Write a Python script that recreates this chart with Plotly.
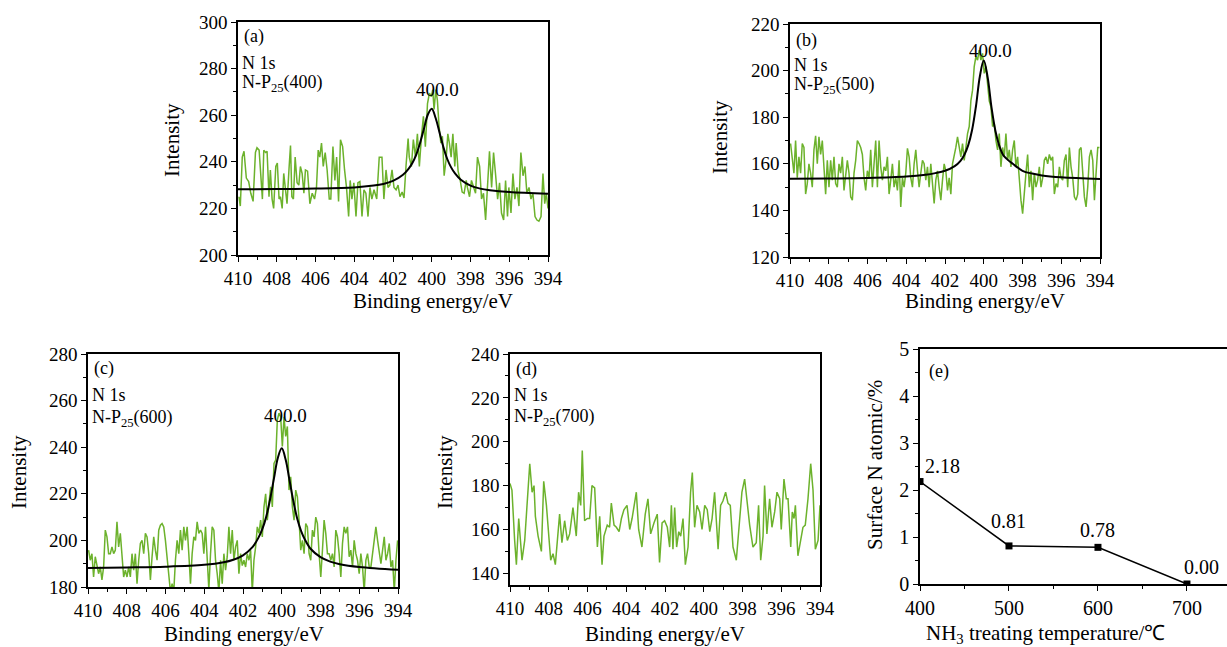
import numpy as np
import plotly.graph_objects as go

# ---------------- data ----------------
# (a) N-P25(400)
a_energy = [409.95,409.88,409.78,409.69,409.57,409.45,409.34,409.22,409.10,409.02,
            408.91,408.83,408.74,408.67,408.57,408.50,408.40,408.33,408.24,408.16,
            408.05,407.97,407.88,407.81,407.72,407.64,407.55,407.47,407.36,407.29,
            407.22,407.14,407.05,406.95,406.86,406.78,406.69,406.60,406.52,406.41,
            406.29,406.17,406.05,405.95,405.86,405.78,405.69,405.60,405.50,405.40,
            405.29,405.21,405.10,405.00,404.91,404.81,404.71,404.60,404.50,404.40,
            404.29,404.21,404.12,404.02,403.91,403.81,403.71,403.60,403.50,403.40,
            403.29,403.19,403.09,402.98,402.84,402.71,402.57,402.47,402.36,402.26,
            402.16,402.05,401.95,401.84,401.74,401.64,401.53,401.43,401.33,401.22,
            401.16,401.05,400.95,400.84,400.74,400.64,400.53,400.43,400.33,400.22,
            400.12,400.02,399.95,399.88,399.79,399.71,399.62,399.53,399.45,399.36,
            399.26,399.17,399.09,399.00,398.91,398.81,398.74,398.64,398.53,398.43,
            398.33,398.22,398.16,398.05,397.95,397.84,397.74,397.64,397.53,397.43,
            397.33,397.22,397.12,397.02,396.91,396.81,396.71,396.60,396.50,396.40,
            396.29,396.19,396.09,396.02,395.91,395.81,395.71,395.60,395.50,395.40,
            395.29,395.19,395.09,394.98,394.88,394.78,394.67,394.57,394.47,394.36,
            394.26,394.17,394.09,394.00]
a_counts = [225,221,242,244.5,233,231.5,226.5,223,244,246,
            245,234,224,245,244,244.5,225,236.5,224,220,
            238,239.5,224,225,220,235,228,222,238,247,
            225,224,242,231,230,238,235,226.5,236.5,236,
            222,226.5,224,229,245,242,248,238,244,236.5,
            224,224,246.5,232,242,223,249.5,246.5,236.5,229,
            216.5,232,224,231,216.5,231,231.5,216.5,228,226.5,
            216.5,229,224,228,224,242,242,224,236.5,229,
            230,236.5,229,228,230,225,227,224.5,238,250,
            242,238,249.5,242,252,238,251,259.5,246.5,265,
            269.5,268,271,262.5,271,266.5,255,248,251,234,
            241,252,248,242,252,238,248,236,232,227,
            226.5,232,229,225,232,229,226.5,242,238,224,
            226.5,215,229,244.5,229,244,235,224,231,218,
            215,232,216.5,229,218,235,224,229,221,244,
            234,238,226.5,229,224,226.5,216.5,215,214.5,216.5,
            235,222,226.5,220]

# (b) N-P25(500), evenly spaced from 409.97 to 394.03 eV
b_start, b_end = 409.97, 394.03
b_counts = [168.7,163,156,170,154,163,156,168.7,167,147,
            151.5,160,156,150,166,172,160,171.6,164,170,
            157,147,161.5,150,161.5,153,163,151.5,150,160,
            156,163,148.6,156,161.5,156,145.8,144.4,156,161.5,
            170,168.7,167,164,154,148.6,157,154,166,150,
            158.7,170,150,170,158.7,153,158.7,157,163,147,
            153,160,150,154,148.6,161.5,141.5,154,150,156,
            166.6,163,154,150,160,166,157,150,156,161.5,
            160,153,158.7,150,160,150,143,153,157,150,
            144.4,153,160,157,148.6,154,147,160,163,167,
            171.6,167,163,168.7,161.5,167,173,176,187,191.6,
            201.7,206,204.5,208.8,204.5,207.4,198.8,201.7,193,187,
            184.5,176,177.3,170,166,173,158.7,167,163,173,
            161.5,166,158.7,166,170,158.7,163,153,144.4,138.6,
            148.6,156,164,150,157,144.4,156,150,153,158.7,
            150,154,161.5,163,160,164,161.5,163,147,151.5,
            150,158.7,154,153,161.5,164,150,167,158.7,154,
            145.8,144.4,147,166,167,156,145.8,141.5,150,163,
            166,161.5,144.4,156,167,167]

# (c) N-P25(600), evenly spaced from 409.97 to 394.02 eV
c_start, c_end = 409.97, 394.02
c_counts = [195.8,191.5,194.3,184.3,193,190,185.7,188.6,183,188.6,
            204.4,201.5,194.3,194.3,197.2,194.3,195.8,208,197.2,203,
            194.3,184.3,187.2,184.3,188.6,184.3,194.3,187.2,194.3,181.4,
            191.5,198.7,200,194.3,203,201.5,194.3,183,193,201.5,
            195.8,191.5,204.4,206.5,207.2,205.8,200,193,185.7,178,
            181.4,178,191.5,200,194.3,204.4,195.8,205.8,200,205.8,
            194.3,181.4,194.3,201.5,200,208,203,204.4,203,194.3,
            205.8,191.5,179,194.3,205.8,204.4,191.5,185.7,178,191.5,
            181.4,194.3,187.2,193,205.8,194.3,204.4,191.5,197.2,200,
            185.7,194.3,189.2,191.5,188.6,194.3,191.5,195.8,178,191.5,
            197.2,205.8,203,208.7,201.5,214.4,220,208.7,217.3,223,
            214.4,233,234.5,251.7,254.6,253,240.3,253,244.6,248.9,
            221.6,227.3,214.4,208.7,221.6,218.7,208.7,195.8,200,194.3,
            207.2,205.8,194.3,191.5,204.4,201.5,210,207.2,194.3,184.3,
            195.8,208.7,203,194.3,194.3,191.5,194.3,188.6,204.4,201.5,
            194.3,184.3,198.7,205.8,203,205.8,193,195.8,188.6,200,
            194.3,191.5,185.7,194.3,188.6,178,191.5,194.3,188.6,188.6,
            194.3,201.5,205.8,200,194.3,190,195.8,201.5,191.5,194.3,
            198.7,188.6,191.5,178,191.5,200]

# (d) N-P25(700)
d_energy = [410.00,409.90,409.76,409.67,409.55,409.38,409.24,409.16,408.98,408.86,
            408.76,408.69,408.55,408.38,408.26,408.12,408.04,407.90,407.78,407.66,
            407.44,407.32,407.18,407.04,406.92,406.75,406.58,406.46,406.35,406.27,
            406.15,406.01,405.89,405.77,405.63,405.49,405.37,405.25,405.15,404.98,
            404.86,404.77,404.63,404.51,404.37,404.25,404.12,403.96,403.82,403.70,
            403.48,403.36,403.19,403.02,402.88,402.74,402.57,402.40,402.28,402.15,
            402.02,401.88,401.76,401.67,401.59,401.50,401.40,401.29,401.19,401.07,
            400.95,400.81,400.68,400.59,400.47,400.35,400.21,400.09,399.95,399.82,
            399.69,399.57,399.44,399.26,399.13,399.01,398.87,398.75,398.63,398.49,
            398.32,398.15,398.03,397.89,397.75,397.63,397.46,397.29,397.17,397.06,
            396.94,396.86,396.74,396.60,396.48,396.34,396.22,396.08,396.00,395.86,
            395.74,395.65,395.51,395.43,395.34,395.27,395.14,395.00,394.88,394.76,
            394.62,394.48,394.36,394.24,394.10,394.00]
d_counts = [181,178,155,144,165,146,155,165,190,177,
            180,166,157,150,182,171,161,146,149,144,
            167,154,164,155,158,170,157,177,171,196,
            164,165,165,180,179,152,166,144,157,162,
            161,172,162,161,159,165,169,171,160,165,
            177,160,152,167,174,158,163,167,145,163,
            164,161,152,171,151,170,152,159,157,165,
            144,152,177,186,161,171,168,160,171,169,
            159,165,177,151,171,173,177,172,171,152,
            146,165,177,183,171,162,152,154,171,146,
            157,180,158,174,161,168,177,174,160,183,
            174,174,152,168,165,171,148,155,161,162,
            174,190,178,151,155,171]

# fitted N 1s peaks (black curves)
fit_energy = [410, 408, 406, 404, 403, 402.5, 402, 401.5, 401.2, 401, 400.8, 400.6, 400.4,
              400.2, 400, 399.8, 399.6, 399.4, 399.2, 399, 398.8, 398.5, 398, 397.5, 397, 396, 394]
a_fit = [228.2, 228.3, 228.5, 229.0, 229.8, 230.5, 231.8, 234.3, 237.0, 239.5, 243.1, 248.2, 254.3,
         260.3, 262.8, 258.8, 252.6, 246.3, 241.2, 237.6, 235.0, 232.3, 229.8, 228.5, 227.8, 227.0, 226.3]
b_fit = [153.6, 153.7, 153.9, 154.5, 155.3, 156.0, 157.0, 159.0, 161.3, 163.9, 168.0, 174.6, 184.8,
         197.6, 204.3, 197.2, 184.2, 174.2, 167.8, 163.8, 162.0, 160.0, 157.0, 155.8, 155.0, 154.2, 153.5]
c_fit = [188.2, 188.4, 188.7, 189.5, 190.6, 191.7, 193.6, 197.2, 201.2, 204.9, 210.2, 217.7, 226.7,
         235.5, 239.5, 234.7, 225.8, 216.8, 209.3, 204.0, 200.3, 196.3, 192.8, 190.9, 189.8, 188.6, 187.4]

peak_label = "400.0"
samples = ["400", "500", "600", "700"]
panel_tags = ["(a)", "(b)", "(c)", "(d)"]

# (e) surface N content
temps = [400, 500, 600, 700]
n_atomic = [2.18, 0.81, 0.78, 0.00]

# ---------------- figure ----------------
W, H = 1227, 647
FONT = "Liberation Serif"
GREEN = "#6cb22c"


def px(x):
    return x / W


def py(y):
    return 1 - y / H


fig = go.Figure()

b_energy = np.linspace(b_start, b_end, len(b_counts))
c_energy = np.linspace(c_start, c_end, len(c_counts))

spectra = [(a_energy, a_counts, a_fit), (b_energy, b_counts, b_fit),
           (c_energy, c_counts, c_fit), (d_energy, d_counts, None)]
for i, (en, ct, ft) in enumerate(spectra):
    ax = "" if i == 0 else str(i + 1)
    fig.add_trace(go.Scatter(x=list(en), y=ct, mode="lines", line=dict(color=GREEN, width=1.5),
                             xaxis="x" + ax, yaxis="y" + ax, showlegend=False, hoverinfo="skip"))
    if ft is not None:
        fig.add_trace(go.Scatter(x=fit_energy, y=ft, mode="lines",
                                 line=dict(color="black", width=2, shape="spline"),
                                 xaxis="x" + ax, yaxis="y" + ax, showlegend=False, hoverinfo="skip"))

fig.add_trace(go.Scatter(x=temps, y=n_atomic, mode="lines+markers",
                         line=dict(color="black", width=1.5),
                         marker=dict(symbol="square", size=7, color="black"),
                         xaxis="x5", yaxis="y5", showlegend=False, hoverinfo="skip"))

tickfont = dict(family=FONT, size=19, color="black")


def common():
    return dict(ticks="outside", ticklen=5, tickwidth=1.2, tickcolor="black",
                showline=True, linecolor="black", linewidth=1.5,
                showgrid=False, zeroline=False, automargin=False)


def xspec(domain, anchor):
    d = common()
    d.update(domain=domain, anchor=anchor, range=[410, 394], tick0=394, dtick=2,
             minor=dict(ticks="outside", ticklen=3, dtick=1, tickcolor="black", tickwidth=1),
             mirror=True, tickfont=tickfont)
    return d


def yspec(domain, anchor, rng):
    d = common()
    d.update(domain=domain, anchor=anchor, range=rng, tick0=0, dtick=20,
             minor=dict(ticks="outside", ticklen=3, dtick=10, tickcolor="black", tickwidth=1),
             mirror=True, tickfont=tickfont)
    return d


boxes = {
    1: ((238, 548), (22, 255), [200, 300]),
    2: ((790, 1100), (24, 257), [120, 220]),
    3: ((88, 398), (354, 587), [180, 280]),
    4: ((510, 820), (354, 585), [134.7, 240]),
}
layout_axes = {}
for k, ((x0, x1), (y0, y1), rng) in boxes.items():
    s = "" if k == 1 else str(k)
    layout_axes["xaxis" + s] = xspec([px(x0), px(x1)], "y" + s)
    layout_axes["yaxis" + s] = yspec([py(y1), py(y0)], "x" + s, rng)

ex = common()
ex.update(domain=[px(920), 1.0], anchor="y5", range=[400, 745], tick0=400, dtick=100,
          minor=dict(ticks="outside", ticklen=3, dtick=50, tickcolor="black", tickwidth=1),
          mirror=True, tickfont=dict(family=FONT, size=20, color="black"))
ey = common()
ey.update(domain=[py(584), py(349)], anchor="x5", range=[0, 5], dtick=1,
          minor=dict(ticks="outside", ticklen=3, dtick=0.5, tickcolor="black", tickwidth=1),
          mirror=False, tickfont=dict(family=FONT, size=20, color="black"))
layout_axes["xaxis5"] = ex
layout_axes["yaxis5"] = ey

ann = []
tfont = dict(family=FONT, size=21, color="black")
lfont = dict(family=FONT, size=18, color="black")

# axis titles
xt = [(433, 301), (985, 301), (244, 634), (665, 634)]
yt = [(172, 140), (720, 137), (19, 472), (445, 472)]
for (x, y) in xt:
    ann.append(dict(x=px(x), y=py(y), xref="paper", yref="paper", text="Binding energy/eV",
                    showarrow=False, font=tfont, xanchor="center", yanchor="middle"))
for (x, y) in yt:
    ann.append(dict(x=px(x), y=py(y), xref="paper", yref="paper", text="Intensity", textangle=-90,
                    showarrow=False, font=tfont, xanchor="center", yanchor="middle"))
ann.append(dict(x=px(1045), y=py(634), xref="paper", yref="paper",
                text="NH<sub>3</sub> treating temperature/\u2103",
                showarrow=False, font=tfont, xanchor="center", yanchor="middle"))
ann.append(dict(x=px(875), y=py(465), xref="paper", yref="paper", text="Surface N atomic/%",
                textangle=-90, showarrow=False, font=tfont, xanchor="center", yanchor="middle"))

# in-panel labels
tag_rows = [(0.936, 0.824, 0.734), (0.931, 0.824, 0.738), (0.936, 0.824, 0.725), (0.935, 0.823, 0.723)]
for i in range(4):
    s = "" if i == 0 else str(i + 1)
    r = tag_rows[i]
    ann.append(dict(x=0.012, y=r[0], xref="x%s domain" % s, yref="y%s domain" % s, text=panel_tags[i],
                    showarrow=False, font=lfont, xanchor="left", yanchor="middle"))
    ann.append(dict(x=0.006, y=r[1], xref="x%s domain" % s, yref="y%s domain" % s, text="N 1s",
                    showarrow=False, font=lfont, xanchor="left", yanchor="middle"))
    ann.append(dict(x=0.006, y=r[2], xref="x%s domain" % s, yref="y%s domain" % s,
                    text="N-P<sub>25</sub>(%s)" % samples[i],
                    showarrow=False, font=lfont, xanchor="left", yanchor="middle"))

# peak labels
peak_pos = [("x", "y", 399.7, 271.2), ("x2", "y2", 399.65, 208.8), ("x3", "y3", 399.83, 253.8)]
for xr, yr, x, y in peak_pos:
    ann.append(dict(x=x, y=y, xref=xr, yref=yr, text=peak_label, showarrow=False,
                    font=dict(family=FONT, size=19, color="black"),
                    xanchor="center", yanchor="middle"))

# panel e labels
ann.append(dict(x=0.023, y=0.903, xref="x5 domain", yref="y5 domain", text="(e)", showarrow=False,
                font=lfont, xanchor="left", yanchor="middle"))
shifts = [(22, 16), (0, 25), (0, 17), (15, 17)]
for t, v, (dx, dy) in zip(temps, n_atomic, shifts):
    ann.append(dict(x=t, y=v, xref="x5", yref="y5", text="%.2f" % v, showarrow=False,
                    font=dict(family=FONT, size=20, color="black"), xshift=dx, yshift=dy,
                    xanchor="center", yanchor="middle"))

fig.update_layout(template="none", width=W, height=H, margin=dict(l=0, r=0, t=0, b=0, pad=0),
                  paper_bgcolor="white", plot_bgcolor="white", showlegend=False,
                  font=dict(family=FONT, color="black"), annotations=ann, **layout_axes)

fig.write_html("out.html", config={"displayModeBar": False},
               post_script="document.body.style.margin='0';document.body.style.overflow='hidden';")
